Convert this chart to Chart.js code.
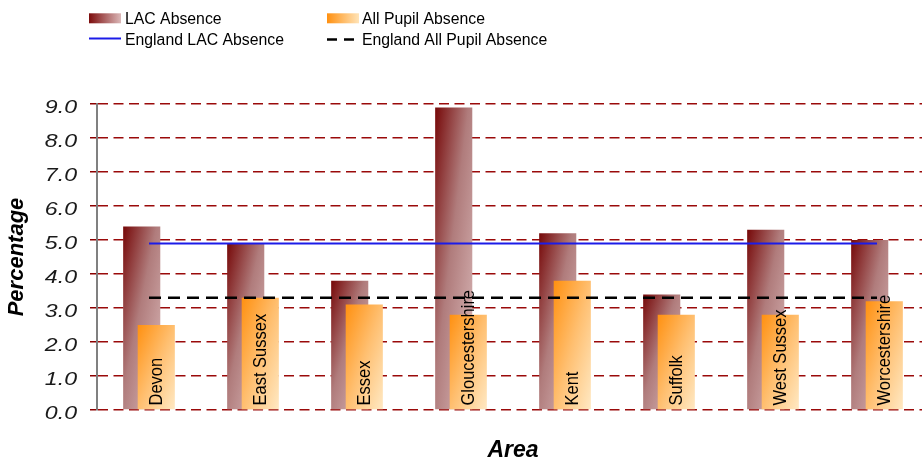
<!DOCTYPE html>
<html>
<head>
<meta charset="utf-8">
<script src="https://cdn.jsdelivr.net/npm/chart.js@4.4.1/dist/chart.umd.min.js"></script>
<style>
  html, body { margin: 0; padding: 0; background: #fff; overflow: hidden; }
  #wrap { width: 935px; height: 463px; }
</style>
</head>
<body>
<div id="wrap"><canvas id="absence" width="935" height="463"></canvas></div>
<script>
// Absence rates by area (%)
const areas = ['Devon', 'East Sussex', 'Essex', 'Gloucestershire', 'Kent', 'Suffolk', 'West Sussex', 'Worcestershire'];
const lacAbsence = [5.4, 4.9, 3.8, 8.9, 5.2, 3.4, 5.3, 5.0];
const allPupilAbsence = [2.5, 3.3, 3.1, 2.8, 3.8, 2.8, 2.8, 3.2];
const englandLacAbsence = [4.9, 4.9, 4.9, 4.9, 4.9, 4.9, 4.9, 4.9];
const englandAllPupilAbsence = [3.3, 3.3, 3.3, 3.3, 3.3, 3.3, 3.3, 3.3];
const seriesNames = ['LAC Absence', 'All Pupil Absence', 'England LAC Absence', 'England All Pupil Absence'];

// the two bar series overlap inside each category
const CAT_PCT = 0.28;
const BAR_PCT = 2.55;

const LAC_STOPS = [[0, '#760808'], [0.45, '#b07c7c'], [1, '#dcbcbc']];
const PUPIL_STOPS = [[0, '#ff9010'], [0.5, '#ffbf70'], [1, '#ffe9c4']];

// geometry of one bar, as the bar controller lays it out
function barBox(chart, side, i, v) {
  const xs = chart.scales.x, ys = chart.scales.y;
  const step = xs.width / areas.length;
  const slot = step * CAT_PCT / 2;
  const c = xs.getPixelForValue(i) + side * slot / 2;
  const w = slot * BAR_PCT;
  return { left: c - w / 2, right: c + w / 2, top: ys.getPixelForValue(v), bottom: ys.getPixelForValue(0), center: c };
}

// diagonal fill: darkest at the top-left corner, lightest at the bottom-right
function diagonalFill(ctx, b, stops) {
  const w = Math.max(1, b.right - b.left), h = Math.max(1, b.bottom - b.top);
  const a = 1 / (2 * w), c = 1 / (2 * h), n = a * a + c * c;
  const g = ctx.createLinearGradient(b.left, b.top, b.left + a / n, b.top + c / n);
  stops.forEach(s => g.addColorStop(s[0], s[1]));
  return g;
}

function barColor(side, stops, flat) {
  return (context) => {
    const chart = context.chart;
    if (context.type !== 'data' || !chart.chartArea) return flat;
    const b = barBox(chart, side, context.dataIndex, context.raw);
    return diagonalFill(chart.ctx, b, stops);
  };
}

// pupil bars sit in front of the LAC bars
const barLayering = {
  id: 'barLayering',
  beforeDatasetDraw(chart, args) {
    if (args.index === 1) return false;
  },
  afterDatasetDraw(chart, args) {
    if (args.index === 0) chart.getDatasetMeta(1).controller.draw();
  }
};

// y tick labels, drawn a little wider than the face
const yTickLabels = {
  id: 'yTickLabels',
  afterDraw(chart) {
    const ys = chart.scales.y, ctx = chart.ctx;
    ctx.save();
    ctx.font = 'italic 18.5px Arial, "Liberation Sans", sans-serif';
    ctx.fillStyle = '#1a1a1a';
    ctx.textAlign = 'right';
    ctx.textBaseline = 'alphabetic';
    ys.ticks.forEach(t => {
      const y = ys.getPixelForValue(t.value);
      ctx.save();
      ctx.translate(ys.right - 20, y + 8.5);
      ctx.scale(1.25, 1);
      ctx.fillText(t.value.toFixed(1), 0, 0);
      ctx.restore();
    });
    ctx.restore();
  }
};

// area names written upward inside the pupil bars
const areaLabels = {
  id: 'areaLabels',
  afterDatasetsDraw(chart) {
    const ctx = chart.ctx;
    ctx.save();
    ctx.font = '16.5px Arial, "Liberation Sans", sans-serif';
    ctx.fillStyle = '#000';
    ctx.textAlign = 'left';
    ctx.textBaseline = 'alphabetic';
    areas.forEach((name, i) => {
      const b = barBox(chart, 1, i, allPupilAbsence[i]);
      ctx.save();
      ctx.translate(b.center + 5.5, b.bottom - 4.5);
      ctx.rotate(-Math.PI / 2);
      ctx.scale(1, 1.12);
      ctx.fillText(name, 0, 0);
      ctx.restore();
    });
    ctx.restore();
  }
};

// two-column key above the plot
const cornerLegend = {
  id: 'cornerLegend',
  afterDraw(chart) {
    const ctx = chart.ctx, ds = chart.data.datasets;
    ctx.save();
    const swatch = (x, y, w, h, c0, c1) => {
      const g = ctx.createLinearGradient(x, 0, x + w, 0);
      g.addColorStop(0, c0); g.addColorStop(1, c1);
      ctx.fillStyle = g;
      ctx.fillRect(x, y, w, h);
    };
    swatch(89, 13.3, 32, 10, '#7c0c0c', '#dbb8b8');
    swatch(327, 13.3, 32, 10, '#ff9010', '#ffe4b8');

    ctx.lineWidth = 2;
    ctx.strokeStyle = ds[2].borderColor;
    ctx.beginPath(); ctx.moveTo(89, 38.5); ctx.lineTo(121, 38.5); ctx.stroke();
    ctx.lineWidth = 2.5;
    ctx.strokeStyle = ds[3].borderColor;
    ctx.setLineDash([10, 7]);
    ctx.beginPath(); ctx.moveTo(327, 39.5); ctx.lineTo(355, 39.5); ctx.stroke();
    ctx.setLineDash([]);

    ctx.font = '15.8px Arial, "Liberation Sans", sans-serif';
    ctx.fillStyle = '#000';
    ctx.textAlign = 'left';
    ctx.textBaseline = 'alphabetic';
    ctx.fillText(ds[0].label, 125, 24);
    ctx.fillText(ds[1].label, 362, 24);
    ctx.fillText(ds[2].label, 125, 44.5);
    ctx.fillText(ds[3].label, 362, 44.5);
    ctx.restore();
  }
};

new Chart(document.getElementById('absence'), {
  data: {
    labels: areas,
    datasets: [
      { type: 'bar', label: seriesNames[0], data: lacAbsence,
        backgroundColor: barColor(-1, LAC_STOPS, '#a05050'), borderWidth: 0,
        categoryPercentage: CAT_PCT, barPercentage: BAR_PCT },
      { type: 'bar', label: seriesNames[1], data: allPupilAbsence,
        backgroundColor: barColor(1, PUPIL_STOPS, '#ffb050'), borderWidth: 0,
        categoryPercentage: CAT_PCT, barPercentage: BAR_PCT },
      { type: 'line', label: seriesNames[2], data: englandLacAbsence, order: -1,
        borderColor: '#1c1ce8', borderWidth: 2, pointRadius: 0, fill: false, tension: 0 },
      { type: 'line', label: seriesNames[3], data: englandAllPupilAbsence, order: -1,
        borderColor: '#000000', borderWidth: 2.5, borderDash: [12, 7], pointRadius: 0, fill: false, tension: 0 }
    ]
  },
  options: {
    responsive: false,
    animation: false,
    devicePixelRatio: 1,
    layout: { padding: { top: 104, right: 6, bottom: 0, left: 0 } },
    plugins: { legend: { display: false }, tooltip: { enabled: false } },
    scales: {
      x: {
        offset: true,
        grid: { display: false },
        border: { display: false },
        ticks: { display: false },
        title: {
          display: true, text: 'Area', color: '#000',
          font: { family: 'Arial', size: 23, weight: 'bold', style: 'italic', lineHeight: 1 },
          padding: { top: 0, bottom: 1 }
        },
        afterFit(scale) { scale.height = 53; }
      },
      y: {
        min: 0, max: 9,
        ticks: { stepSize: 1, display: false },
        grid: { color: '#9a0a0a', lineWidth: 1.5, tickLength: 7, tickColor: '#8b0000', tickWidth: 1.5, tickBorderDash: [] },
        border: { display: true, color: '#808080', width: 2, dash: [10, 5.5] },
        title: {
          display: true, text: 'Percentage', color: '#000',
          font: { family: 'Arial', size: 22, weight: 'bold', style: 'italic', lineHeight: 1 },
          padding: { top: 6.4, bottom: 0 }
        },
        afterFit(scale) { scale.width = 97; }
      }
    }
  },
  plugins: [barLayering, yTickLabels, areaLabels, cornerLegend]
});
</script>
</body>
</html>
